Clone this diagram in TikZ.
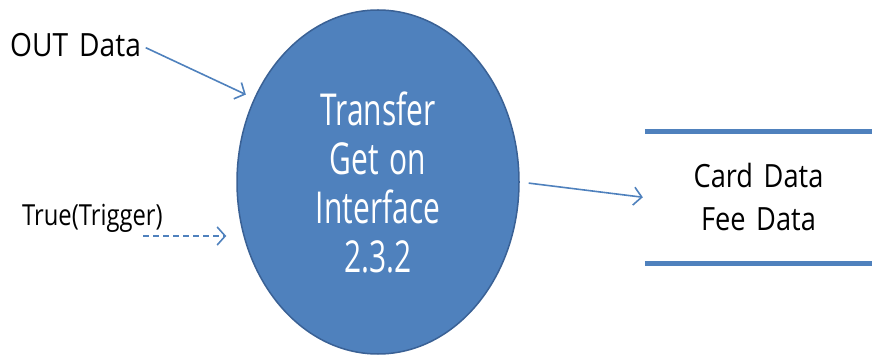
\documentclass[tikz,border=0pt]{standalone}
\usepackage{fontspec}
\usetikzlibrary{shapes.geometric,arrows.meta}
\newfontfamily\fOut[FakeStretch=0.88,WordSpace=1.5]{Open Sans}
\newfontfamily\fTrig[FakeStretch=0.82]{Open Sans}
\newfontfamily\fEll[FakeStretch=0.68,WordSpace=1.4]{Open Sans}
\newfontfamily\fStore[FakeStretch=0.85,WordSpace=1.5]{Open Sans}
\definecolor{pblue}{HTML}{4F81BD}
\definecolor{pdark}{HTML}{3A6195}
\tikzset{
  flow/.style={draw=pblue, line width=1.6pt, -{Straight Barb[length=8pt,width=18pt,line width=1.6pt]}},
  proc/.style={ellipse, fill=pblue, draw=pdark, line width=1.5pt, minimum width=282pt, minimum height=344pt, inner sep=0pt, text=white, align=center},
  storeline/.style={draw=pblue, line width=5pt},
  lbl/.style={inner sep=0pt, text=black}
}
\begin{document}
\begin{tikzpicture}[x=1pt,y=-1pt]
\useasboundingbox (0,0) rectangle (872,355);
\node[proc, font=\fEll\fontsize{44}{49}\selectfont] (p) at (378,182) {Transfer\\Get on\\Interface\\2.3.2};
\node[lbl, anchor=base west, font=\fOut\fontsize{32}{38}\selectfont] (outl) at (10,57) {OUT Data};
\node[lbl, anchor=base west, font=\fTrig\fontsize{29}{34}\selectfont] (trig) at (22,226) {True(Trigger)};
\node[lbl, minimum width=227pt, minimum height=131pt, align=center, font=\fStore\fontsize{32}{43}\selectfont] (store) at (758.5,197.5) {Card Data\\Fee Data};
\draw[storeline] (store.north west) -- (store.north east);
\draw[storeline] (store.south west) -- (store.south east);
\coordinate (t1) at (143,236);
\draw[flow, shorten <=5pt, shorten >=9pt] (outl.east) -- (p.146);
\draw[flow, dash pattern=on 6pt off 4pt] (t1) -- ([xshift=-10pt]p.west |- t1);
\draw[flow, shorten <=9pt, shorten >=2pt] (p.east) -- (store.west);
\end{tikzpicture}
\end{document}
